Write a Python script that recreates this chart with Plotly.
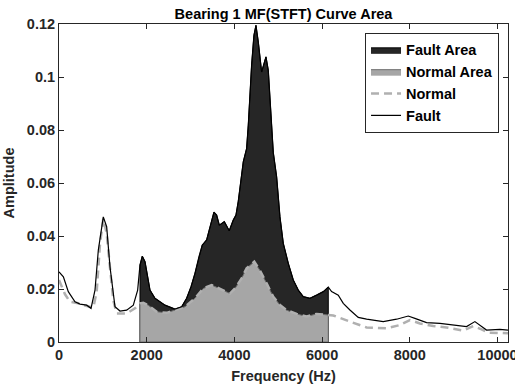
import plotly.graph_objects as go

# ---- data ----
fault_freq = [0, 100, 212, 365, 479, 631, 730, 821, 897, 1010, 1087, 1163, 1277, 1391, 1543, 1695,
              1794, 1847, 1900, 1961, 2075, 2189, 2417, 2645, 2797, 2911, 3010, 3101, 3192, 3268,
              3367, 3443, 3534, 3595, 3656, 3770, 3883, 3974, 4036, 4088, 4165, 4203, 4279, 4317,
              4393, 4446, 4492, 4545, 4621, 4720, 4773, 4826, 4887, 4963, 5039, 5115, 5229, 5343,
              5457, 5571, 5723, 5875, 6027, 6141, 6217, 6369, 6483, 6635, 6825, 7015, 7395, 7699,
              7965, 8117, 8383, 8687, 8991, 9295, 9485, 9599, 9751, 10055, 10240]
fault_amp = [0.0265, 0.0246, 0.0190, 0.0152, 0.0143, 0.0139, 0.0127, 0.0196, 0.0347, 0.0472, 0.0435,
             0.0284, 0.0133, 0.0117, 0.0120, 0.0139, 0.0196, 0.0290, 0.0324, 0.0303, 0.0196, 0.0165,
             0.0139, 0.0124, 0.0133, 0.0165, 0.0208, 0.0259, 0.0322, 0.0366, 0.0385, 0.0435, 0.0490,
             0.0479, 0.0441, 0.0454, 0.0420, 0.0460, 0.0479, 0.0530, 0.0630, 0.0680, 0.0730, 0.0818,
             0.1044, 0.1157, 0.1195, 0.1132, 0.1019, 0.1076, 0.1025, 0.0881, 0.0715, 0.0623, 0.0472,
             0.0372, 0.0297, 0.0234, 0.0196, 0.0171, 0.0165, 0.0177, 0.0190, 0.0207, 0.0190, 0.0177,
             0.0146, 0.0121, 0.0093, 0.0086, 0.0077, 0.0086, 0.0098, 0.0089, 0.0073, 0.0070, 0.0063,
             0.0058, 0.0077, 0.0064, 0.0045, 0.0048, 0.0045]

normal_freq = [0, 137, 250, 440, 593, 707, 783, 860, 935, 1010, 1087, 1163, 1240, 1315, 1543, 1733,
               1847, 1922, 2036, 2227, 2455, 2645, 2873, 3101, 3290, 3481, 3595, 3785, 3899, 4013,
               4165, 4279, 4453, 4583, 4682, 4735, 4887, 5039, 5191, 5419, 5647, 5875, 6141, 6255,
               6635, 7015, 7471, 7775, 8003, 8231, 8535, 8839, 9219, 9447, 9637, 9789, 10240]
normal_amp = [0.0234, 0.0180, 0.0152, 0.0146, 0.0138, 0.0134, 0.0130, 0.0190, 0.0370, 0.0465, 0.0410,
              0.0280, 0.0155, 0.0108, 0.0108, 0.0127, 0.0146, 0.0148, 0.0139, 0.0114, 0.0110, 0.0120,
              0.0133, 0.0165, 0.0202, 0.0215, 0.0206, 0.0190, 0.0183, 0.0202, 0.0240, 0.0278, 0.0303,
              0.0270, 0.0235, 0.0221, 0.0171, 0.0140, 0.0120, 0.0106, 0.0096, 0.0106, 0.0102, 0.0100,
              0.0077, 0.0055, 0.0052, 0.0064, 0.0083, 0.0070, 0.0060, 0.0055, 0.0043, 0.0060, 0.0048,
              0.0035, 0.0033]

area_start = 1847
area_end = 6141

x_ticks = [0, 2000, 4000, 6000, 8000, 10000]
y_ticks = [0, 0.02, 0.04, 0.06, 0.08, 0.1, 0.12]
y_tick_labels = ["0", "0.02", "0.04", "0.06", "0.08", "0.1", "0.12"]

title_text = "Bearing 1 MF(STFT) Curve Area"
x_label = "Frequency (Hz)"
y_label = "Amplitude"

# ---- closed polygons for the shaded areas (curve segment + baseline) ----
fa_x = [f for f in fault_freq if area_start <= f <= area_end]
fa_y = [a for f, a in zip(fault_freq, fault_amp) if area_start <= f <= area_end]
na_x = [f for f in normal_freq if area_start <= f <= area_end]
na_y = [a for f, a in zip(normal_freq, normal_amp) if area_start <= f <= area_end]
fa_px = fa_x + [area_end, area_start, area_start]
fa_py = fa_y + [0, 0, fa_y[0]]
na_px = na_x + [area_end, area_start, area_start]
na_py = na_y + [0, 0, na_y[0]]

FONT = "Liberation Sans, Arial, Helvetica, sans-serif"
FS = 14.5

fig = go.Figure()
fig.add_trace(go.Scatter(x=fa_px, y=fa_py, mode="lines", fill="toself", name="Fault Area",
                         line=dict(color="#000000", width=1), fillcolor="#262626"))
fig.add_trace(go.Scatter(x=na_px, y=na_py, mode="lines", fill="toself", name="Normal Area",
                         line=dict(color="#6e6e6e", width=1), fillcolor="#a6a6a6"))
fig.add_trace(go.Scatter(x=normal_freq, y=normal_amp, mode="lines", name="Normal",
                         line=dict(color="#b0b0b0", width=2.5, dash="8px,5px")))
fig.add_trace(go.Scatter(x=fault_freq, y=fault_amp, mode="lines", name="Fault",
                         line=dict(color="#000000", width=1.2)))

axis_common = dict(showline=True, linecolor="#262626", linewidth=1, mirror="ticks",
                   ticks="inside", ticklen=5, tickcolor="#262626", showgrid=False,
                   zeroline=False, ticklabeloverflow="allow", automargin=False,
                   tickfont=dict(family=FONT, size=FS, color="#262626"))

fig.update_layout(
    width=515, height=387,
    margin=dict(l=59, r=7, t=24, b=45, autoexpand=False),
    paper_bgcolor="white", plot_bgcolor="white",
    font=dict(family=FONT, size=FS, color="#262626"),
    title=dict(text="<b>" + title_text + "</b>", x=0.5, xanchor="center", xref="paper",
               y=1, yref="paper", yanchor="bottom", pad=dict(b=5),
               font=dict(family=FONT, size=FS, color="#000000")),
    showlegend=True,
    legend=dict(x=0.98, y=0.972, xanchor="right", yanchor="top",
                bgcolor="white", bordercolor="#262626", borderwidth=1,
                font=dict(family=FONT, size=FS, color="#000000"),
                tracegroupgap=0, itemwidth=30, traceorder="normal"),
)
fig.update_xaxes(range=[0, 10240], tickvals=x_ticks, ticktext=["<b>%d</b>" % v for v in x_ticks],
                 title=dict(text="<b>" + x_label + "</b>", standoff=8,
                            font=dict(family=FONT, size=FS, color="#262626")),
                 **axis_common)
fig.update_yaxes(range=[0, 0.12], tickvals=y_ticks, ticktext=["<b>%s</b>" % t for t in y_tick_labels],
                 title=dict(text="<b>" + y_label + "</b>", standoff=8,
                            font=dict(family=FONT, size=FS, color="#262626")),
                 **axis_common)

for tr in fig.data:
    tr.name = "<b>" + tr.name + "</b>"

fig.write_html("out.html")
